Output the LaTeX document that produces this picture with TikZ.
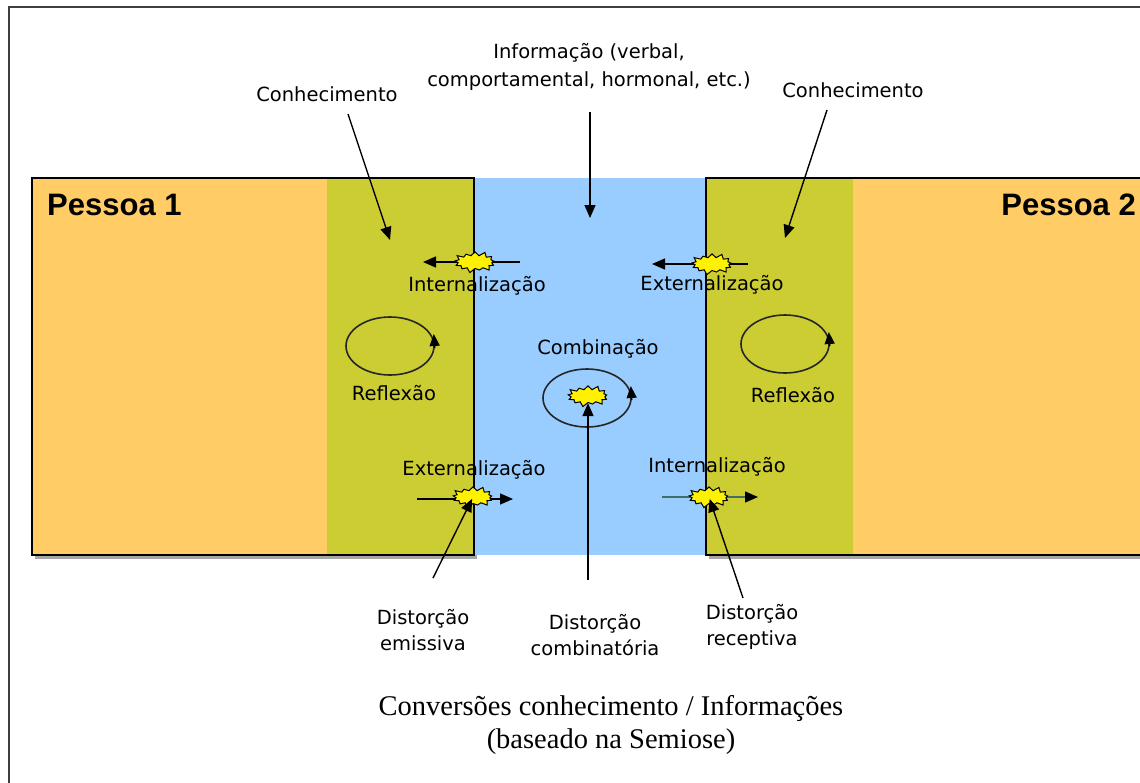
\documentclass[tikz,border=0pt]{standalone}
\usepackage{fontspec}
\setmainfont{DejaVu Sans}
\newfontfamily\headfont{Liberation Sans}
\newfontfamily\capfont{Liberation Serif}
\usetikzlibrary{arrows.meta,shapes.symbols,shapes.geometric}
\definecolor{orangeP}{HTML}{FFCC66}
\definecolor{greenP}{HTML}{CCCC33}
\definecolor{blueP}{HTML}{99CCFF}
\definecolor{tealline}{HTML}{3F6F66}
\begin{document}
\begin{tikzpicture}[x=1pt,y=-1pt,
  lbl/.style={font=\fontsize{19.5}{26}\selectfont, inner sep=0pt, align=center, text=black},
  arr/.style={line width=1.4pt, -{Triangle[length=13pt,width=11pt]}},
  loophead/.style={line width=1.4pt, -{Triangle[length=12pt,width=10pt]}},
  burst/.style={starburst, starburst points=13, starburst point height=5pt, fill=yellow, draw=black, line width=1pt, minimum width=44pt, minimum height=23pt, inner sep=0pt},
  loopnode/.style={ellipse, draw=black!85, line width=1.6pt, minimum width=88pt, minimum height=58pt, inner sep=0pt},
  boxline/.style={line width=2.5pt, draw=black}]

\useasboundingbox (0,0) rectangle (1140,782);
\fill[white] (0,0) rectangle (1140,782);
% outer frame
\draw[line width=2pt, black!75] (9,783) -- (9,7) -- (1141,7);

% shadows
\fill[black!35] (35,181) rectangle (477,559);
\fill[black!35] (709,181) rectangle (1141,559);
% regions
\fill[orangeP] (32,178) rectangle (327,555);
\fill[greenP] (327,178) rectangle (474,555);
\fill[blueP] (474,178) rectangle (706,555);
\fill[greenP] (706,178) rectangle (853,555);
\fill[orangeP] (853,178) rectangle (1141,555);
\draw[boxline] (32,178) rectangle (474,555);
\draw[boxline] (1142,178) -- (706,178) -- (706,555) -- (1142,555);

% titles
\node[anchor=base west, inner sep=0pt, font=\headfont\bfseries\fontsize{31}{31}\selectfont] (p1) at (47,215) {Pessoa 1};
\node[anchor=base east, inner sep=0pt, font=\headfont\bfseries\fontsize{31}{31}\selectfont] (p2) at (1136,215) {Pessoa 2};

% labels
\node[lbl, font=\fontsize{19.5}{28}\selectfont] (info) at (589,67) {Informação (verbal,\\comportamental, hormonal, etc.)};
\node[lbl] (con1) at (327,94) {Conhecimento};
\node[lbl] (con2) at (853,90) {Conhecimento};
\node[lbl] (int1) at (477,286) {Internalização};
\node[lbl] (ext2) at (712,285) {Externalização};
\node[lbl] (comb) at (598,349) {Combinação};
\node[lbl] (ref1) at (394,393) {Reflexão};
\node[lbl] (ref2) at (793,395) {Reflexão};
\node[lbl] (ext1) at (474,470) {Externalização};
\node[lbl] (int2) at (717,467) {Internalização};
\node[lbl] (d1) at (423,630) {Distorção\\emissiva};
\node[lbl] (d2) at (595,635) {Distorção\\combinatória};
\node[lbl] (d3) at (752,627) {Distorção\\receptiva};
\node[font=\capfont\fontsize{28.5}{33}\selectfont, align=center, inner sep=0pt] (cap) at (611,725) {Conversões conhecimento / Informações\\(baseado na Semiose)};

% coordinates
\coordinate (infoA) at (590,112);
\coordinate (infoB) at (590,218);
\coordinate (k1a) at (348,114);
\coordinate (k1b) at (390,240);
\coordinate (k2a) at (827,110);
\coordinate (k2b) at (785,238);
\coordinate (t1a) at (520,262);
\coordinate (t1b) at (423,262);
\coordinate (t2a) at (748,264);
\coordinate (t2b) at (652,264);
\coordinate (b1a) at (417,499);
\coordinate (b1b) at (513,499);
\coordinate (b2a) at (662,497);
\coordinate (b2b) at (758,497);
\coordinate (dA) at (433,578);
\coordinate (dB) at (588,580);
\coordinate (dC) at (743,598);

% arrows from labels
\draw[arr] (infoA) -- (infoB);
\draw[arr] (k1a) -- (k1b);
\draw[arr] (k2a) -- (k2b);

% horizontal conversion arrows
\draw[arr] (t1a) -- (t1b);
\draw[arr] (t2a) -- (t2b);
\draw[arr] (b1a) -- (b1b);
\draw[line width=1.4pt, draw=tealline, -{Triangle[length=13pt,width=11pt,color=black]}] (b2a) -- (b2b);

% loops
\node[loopnode] (l1) at (390,346) {};
\draw[loophead] ([yshift=-2pt]l1.east) -- ([xshift=-1pt,yshift=12pt]l1.east);
\node[loopnode] (l2) at (785,344) {};
\draw[loophead] ([yshift=-2pt]l2.east) -- ([xshift=-1pt,yshift=12pt]l2.east);
\node[loopnode] (l3) at (587,398) {};
\draw[loophead] ([yshift=-2pt]l3.east) -- ([xshift=-1pt,yshift=12pt]l3.east);

% bursts
\node[burst] (s1) at (475,262) {};
\node[burst] (s2) at (712,264) {};
\node[burst] (s3) at (588,396) {};
\node[burst] (s4) at (473,497) {};
\node[burst] (s5) at (709,497) {};

% distortion arrows
\draw[arr, shorten >=2pt] (dA) -- (s4.center);
\draw[arr] (dB) -- (s3);
\draw[arr, shorten >=2pt] (dC) -- (s5.center);
\end{tikzpicture}
\end{document}
